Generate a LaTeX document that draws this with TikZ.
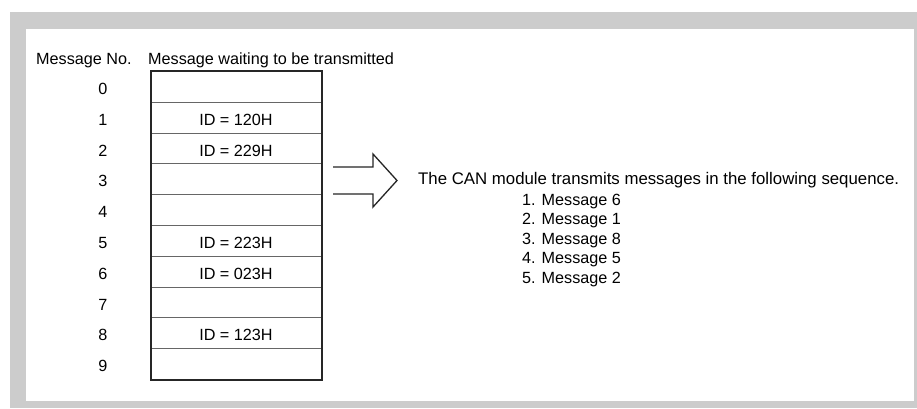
\documentclass[tikz,border=0pt]{standalone}
\usepackage{fontspec}
\setmainfont{Liberation Sans}
\begin{document}
\begin{tikzpicture}[x=1pt,y=-1pt,
  txt/.style={font=\fontsize{16.2}{18}\selectfont, inner sep=0pt, anchor=base},
  cell/.style={draw=black!60, line width=0.9pt, minimum width=170pt, minimum height=30.8pt, inner sep=0pt, anchor=north west},
  frame/.style={draw=black!85, line width=1.6pt},
  bigarrow/.style={draw=black!85, line width=1.3pt, fill=white, line join=miter}
]
\useasboundingbox (0,0) rectangle (917,408);
\fill[white] (0,0) rectangle (917,408);
\fill[black!20] (10,12) rectangle (917,408);
\fill[white] (26,29) rectangle (914,401);

% headers
\node[txt, anchor=base west] (hno) at (36,64) {Message No.};
\node[txt, anchor=base west] (hwait) at (148,64) {Message waiting to be transmitted};

% table rows
\foreach \i/\t in {0/,1/ID = 120H,2/ID = 229H,3/,4/,5/ID = 223H,6/ID = 023H,7/,8/ID = 123H,9/} {
  \pgfmathsetmacro{\top}{71+30.8*\i}
  \node[cell] (r\i) at (151,\top) {};
  \node[txt] (id\i) at (236,\top+23.5) {\t};
  \node[txt] (n\i) at (103,\top+23.5) {\i};
}
\draw[frame] (r0.north west) rectangle (r9.south east);

% hollow arrow
\draw[bigarrow] (333,167) -- (373,167) -- (373,154) -- (397,180.5) -- (373,207) -- (373,194) -- (333,194);

% result text
\node[txt, font=\fontsize{16.8}{18}\selectfont, anchor=base west] (title) at (418,184) {The CAN module transmits messages in the following sequence.};
\foreach \j/\m in {1/6,2/1,3/8,4/5,5/2} {
  \node[txt, anchor=base west] (s\j) at (522,205+19.5*\j-19.5) {\j. Message \m};
}
\end{tikzpicture}
\end{document}
